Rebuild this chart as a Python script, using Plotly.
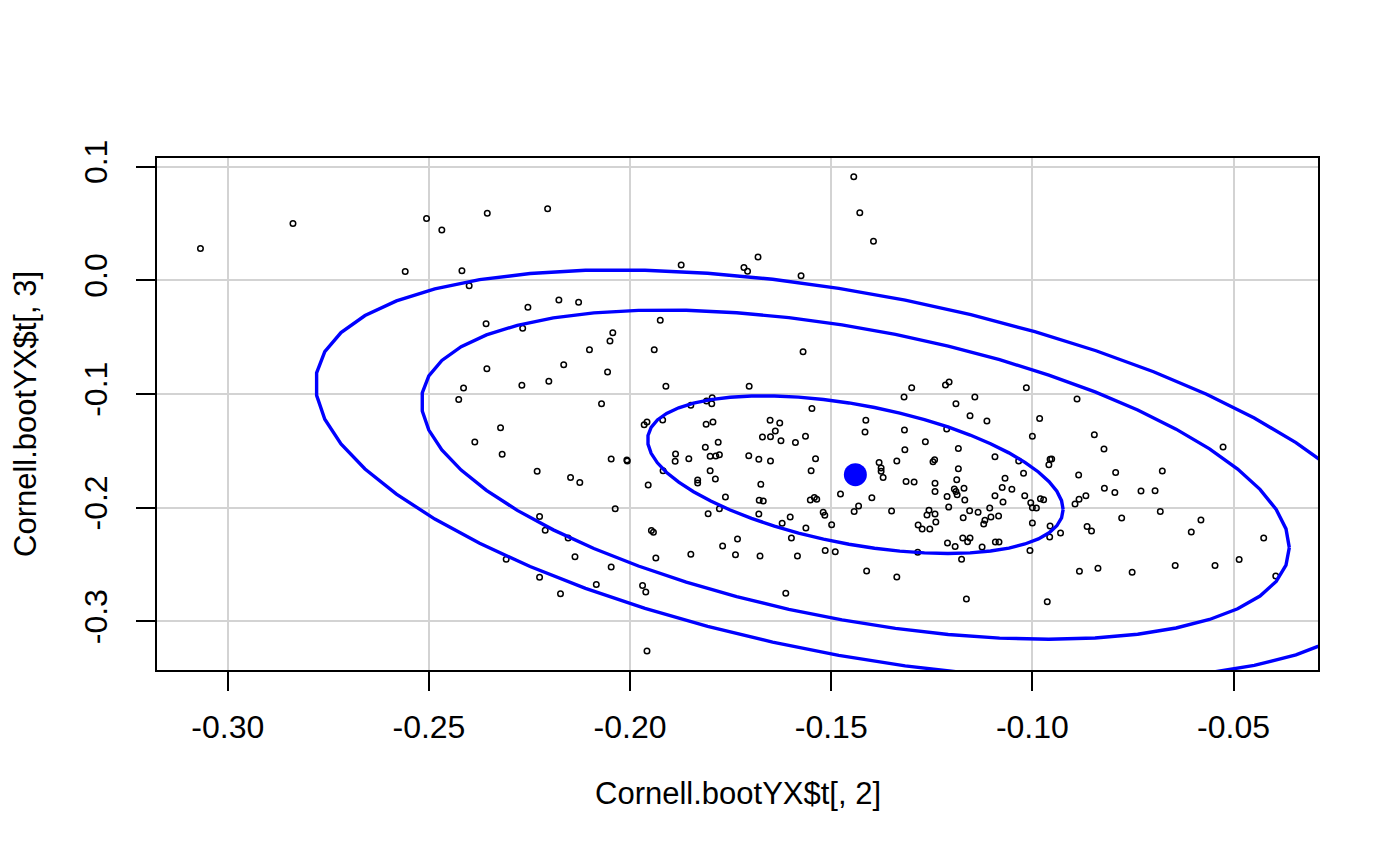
import numpy as np
import plotly.graph_objects as go

# Bootstrap replicates: Cornell.bootYX$t[, 2] (x) and Cornell.bootYX$t[, 3] (y)
boot_t2 = [
    -0.3068, -0.2838, -0.2506, -0.2468, -0.2355, -0.2205, -0.2559, -0.2418, -0.2400, -0.2254,
    -0.2358, -0.2267, -0.2356, -0.2414, -0.2269, -0.2202, -0.2426,
    -0.1444, -0.1429, -0.1395, -0.1873, -0.1717, -0.1708, -0.1682, -0.1575, -0.2177, -0.2128,
    -0.1925, -0.2043, -0.2050, -0.2101, -0.1940, -0.1570, -0.2165, -0.2056, -0.1911, -0.1704,
    -0.1300, -0.1319, -0.1216, -0.1207, -0.2071, -0.1849, -0.1810, -0.1796, -0.1797, -0.1548,
    -0.1015, -0.1143, -0.1190, -0.0889,
    -0.2322, -0.2386, -0.2318, -0.2231, -0.2225, -0.2211, -0.2308, -0.2225,
    -0.1965, -0.1958, -0.1919, -0.1811, -0.1794, -0.1652, -0.1628, -0.1639, -0.1671, -0.1651,
    -0.1625, -0.1589, -0.1564, -0.1414, -0.1416, -0.1318, -0.1213, -0.1266, -0.1317, -0.1337,
    -0.1381, -0.1376, -0.1376, -0.1371, -0.1243, -0.1247, -0.1314, -0.1294, -0.1242, -0.1242,
    -0.1212, -0.1208, -0.1399, -0.1432, -0.1443, -0.1477, -0.1350, -0.1257, -0.1262, -0.1242,
    -0.1240, -0.1284, -0.1274, -0.1255, -0.1211, -0.1285, -0.1412, -0.1337, -0.1813, -0.1781,
    -0.1887, -0.1888, -0.1854, -0.1801, -0.1787, -0.1778, -0.1705, -0.1680, -0.1651, -0.1539,
    -0.1550, -0.1801, -0.1788, -0.1832, -0.1832, -0.1675, -0.1918, -0.2047, -0.2008, -0.2007,
    -0.2148, -0.2125, -0.1955, -0.1763, -0.1679, -0.1669, -0.1552, -0.1542, -0.1536, -0.1778,
    -0.1806, -0.1680, -0.2037, -0.1520, -0.1516, -0.1499, -0.1602, -0.1622, -0.1563, -0.1599,
    -0.1733, -0.1770, -0.1738, -0.1677, -0.1584, -0.1515, -0.1490, -0.1849, -0.1936, -0.1947,
    -0.1942, -0.2154, -0.2137, -0.2047, -0.2084, -0.2173, -0.1969, -0.1961, -0.1613, -0.1958,
    -0.1155, -0.1113, -0.0982, -0.1000, -0.0846, -0.0822, -0.0526, -0.1184, -0.1093, -0.1034,
    -0.0959, -0.0956, -0.0952, -0.1184, -0.1022, -0.1068, -0.1188, -0.1075, -0.1051, -0.1170,
    -0.1194, -0.1190, -0.1187, -0.1168, -0.1093, -0.1073, -0.1019, -0.1004, -0.0980, -0.0972,
    -0.1000, -0.0990, -0.1156, -0.1135, -0.1106, -0.1172, -0.1103, -0.1084, -0.1118, -0.1121,
    -0.1000, -0.0956, -0.0957, -0.0930, -0.1192, -0.1173, -0.1161, -0.1155, -0.1125, -0.1092,
    -0.1083, -0.1006, -0.1176, -0.1164, -0.0963, -0.0885, -0.0793, -0.0677, -0.0821, -0.0795,
    -0.0730, -0.0695, -0.0894, -0.0884, -0.0867, -0.0778, -0.0682, -0.0581, -0.0605, -0.0864,
    -0.0853, -0.0425, -0.0486, -0.0546, -0.0645, -0.0752, -0.0837, -0.0883, -0.0395,
]
boot_t3 = [
    0.0279, 0.0501, 0.0545, 0.0443, 0.0589, 0.0630, 0.0077, 0.0085, -0.0047, -0.0237,
    -0.0381, -0.0422, -0.0777, -0.0947, -0.0923, -0.0888, -0.1049,
    0.0912, 0.0595, 0.0343, 0.0135, 0.0114, 0.0079, 0.0205, 0.0041, -0.0173, -0.0193,
    -0.0352, -0.0460, -0.0534, -0.0610, -0.0610, -0.0627, -0.0742, -0.0806, -0.0932, -0.0932,
    -0.0944, -0.1026, -0.0921, -0.0894, -0.1085, -0.1099, -0.1061, -0.1032, -0.1085, -0.1128,
    -0.0944, -0.1026, -0.1085, -0.1044,
    -0.1296, -0.1422, -0.1530, -0.1680, -0.2078, -0.2199, -0.2454, -0.2612,
    -0.1269, -0.1246, -0.1229, -0.1266, -0.1246, -0.1231, -0.1255, -0.1325, -0.1378, -0.1375,
    -0.1410, -0.1427, -0.1372, -0.1231, -0.1334, -0.1317, -0.1308, -0.1419, -0.1489, -0.1589,
    -0.1603, -0.1651, -0.1680, -0.1733, -0.1577, -0.1595, -0.1770, -0.1774, -0.1785, -0.1858,
    -0.1900, -0.1994, -0.1911, -0.1985, -0.2034, -0.1880, -0.2029, -0.2023, -0.2064, -0.2055,
    -0.2126, -0.2152, -0.2187, -0.2187, -0.2310, -0.2392, -0.2557, -0.2610, -0.1469, -0.1425,
    -0.1528, -0.1592, -0.1568, -0.1548, -0.1545, -0.1533, -0.1542, -0.1574, -0.1589, -0.1568,
    -0.1674, -0.1674, -0.1748, -0.1756, -0.1783, -0.1794, -0.1674, -0.1572, -0.1580, -0.1589,
    -0.1735, -0.1779, -0.1800, -0.1906, -0.1935, -0.1941, -0.1932, -0.1909, -0.1926, -0.2008,
    -0.2052, -0.2055, -0.2008, -0.2040, -0.2067, -0.2149, -0.2082, -0.2137, -0.2179, -0.2266,
    -0.2275, -0.2337, -0.2413, -0.2425, -0.2425, -0.2377, -0.2386, -0.2410, -0.2442, -0.2201,
    -0.2216, -0.2266, -0.2430, -0.2522, -0.2674, -0.2756, -0.2683, -0.2741, -0.2753, -0.3260,
    -0.1190, -0.1237, -0.1214, -0.1372, -0.1357, -0.1484, -0.1466, -0.1478, -0.1551, -0.1589,
    -0.1621, -0.1574, -0.1572, -0.1656, -0.1697, -0.1741, -0.1753, -0.1821, -0.1838, -0.1829,
    -0.1836, -0.1858, -0.1885, -0.1932, -0.1894, -0.1950, -0.1894, -0.1955, -0.1920, -0.1929,
    -0.1999, -0.2003, -0.2026, -0.2040, -0.2003, -0.2087, -0.2082, -0.2073, -0.2111, -0.2143,
    -0.2135, -0.2161, -0.2258, -0.2223, -0.2340, -0.2266, -0.2298, -0.2266, -0.2346, -0.2302,
    -0.2302, -0.2375, -0.2454, -0.2803, -0.2826, -0.1712, -0.1689, -0.1677, -0.1829, -0.1867,
    -0.1853, -0.1850, -0.1967, -0.1926, -0.1894, -0.2091, -0.2032, -0.2108, -0.2214, -0.2166,
    -0.2205, -0.2266, -0.2456, -0.2509, -0.2509, -0.2568, -0.2533, -0.2559, -0.2601,
]
assert len(boot_t2) == len(boot_t3)

# Data-ellipse parameters (centre, standard deviations, correlation) and levels
ell_center = [-0.1440, -0.1709]
ell_sd = [0.0438, 0.0588]
ell_rho = -0.443
ell_levels = [0.5, 0.95, 0.99]
ell_segments = 51

x_ticks = [-0.30, -0.25, -0.20, -0.15, -0.10, -0.05]
x_ticktext = ["-0.30", "-0.25", "-0.20", "-0.15", "-0.10", "-0.05"]
y_ticks = [0.1, 0.0, -0.1, -0.2, -0.3]
y_ticktext = ["0.1", "0.0", "-0.1", "-0.2", "-0.3"]

x_title = "Cornell.bootYX$t[, 2]"
y_title = "Cornell.bootYX$t[, 3]"

FONT = "Liberation Sans, Arial, Helvetica, sans-serif"
BLUE = "#0000FF"

fig = go.Figure()
fig.add_trace(go.Scatter(
    x=boot_t2, y=boot_t3, mode="markers",
    marker=dict(symbol="circle-open", size=5.5, color="black",
                line=dict(width=1.5, color="black")),
    showlegend=False, hoverinfo="x+y",
))

n = len(boot_t2)
m = n - 1
a = ell_sd[0]
b = ell_rho * ell_sd[1]
c = ell_sd[1] * np.sqrt(1 - ell_rho ** 2)
theta = np.arange(ell_segments + 1) * 2 * np.pi / ell_segments
for lev in ell_levels:
    fq = (m / 2.0) * ((1 - lev) ** (-2.0 / m) - 1)  # qf(lev, 2, n-1)
    r = np.sqrt(2 * fq)
    ex = ell_center[0] + r * a * np.cos(theta)
    ey = ell_center[1] + r * (b * np.cos(theta) + c * np.sin(theta))
    fig.add_trace(go.Scatter(x=ex, y=ey, mode="lines",
                             line=dict(color=BLUE, width=3.4),
                             showlegend=False, hoverinfo="skip"))

fig.add_trace(go.Scatter(x=[ell_center[0]], y=[ell_center[1]], mode="markers",
                         marker=dict(size=23, color=BLUE), showlegend=False))

axis_common = dict(
    showline=True, linecolor="black", linewidth=2, mirror=True,
    ticks="outside", ticklen=19, tickwidth=2, tickcolor="black",
    showgrid=True, gridcolor="#d3d3d3", gridwidth=1.5, zeroline=False,
    tickfont=dict(family=FONT, size=32, color="black"),
)
fig.update_layout(
    width=1400, height=866,
    margin=dict(l=157, r=82, t=158, b=196),
    paper_bgcolor="white", plot_bgcolor="white",
    xaxis=dict(range=[-0.3176, -0.0290], tickvals=x_ticks, ticktext=x_ticktext,
               ticklabelstandoff=9, **axis_common),
    yaxis=dict(range=[-0.3427, 0.1076], tickvals=y_ticks, ticktext=y_ticktext,
               tickangle=-90, ticklabelstandoff=16, **axis_common),
    annotations=[
        dict(text=x_title, xref="paper", yref="paper", x=0.5, y=0,
             xanchor="center", yanchor="middle", yshift=-123, showarrow=False,
             font=dict(family=FONT, size=31, color="black")),
        dict(text=y_title, xref="paper", yref="paper", x=0, y=0.5,
             xanchor="center", yanchor="middle", xshift=-132, textangle=-90,
             showarrow=False, font=dict(family=FONT, size=31, color="black")),
    ],
)
fig.write_html("out.html")
